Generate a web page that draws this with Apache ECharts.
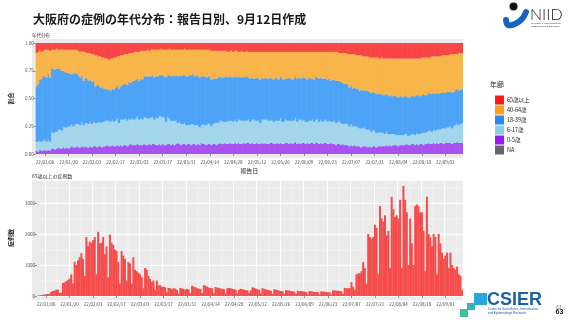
<!DOCTYPE html>
<html><head><meta charset="utf-8">
<script src="https://cdn.jsdelivr.net/npm/echarts@6/dist/echarts.min.js"></script>
<style>html,body{margin:0;padding:0;background:#fff}#c{width:569px;height:320px}</style>
</head><body><div id="c"></div>
<script>
// ---- data (daily, 2022-01-01 .. 2022-09-11) ----
const startYear = 2022, nDays = 254;
const ageNames = ['65歳以上','40-64歳','18-39歳','6-17歳','0-5歳','NA'];
const tickStep = 14, tickStart = 5; // 22/01/06, 22/01/20, ...

// share of reported cases by age group (%)
const share0_5 = [
3,2,4,3,3,4,3, 4,3,5,5,4,5,6, 5,5,6,5,6,5,6, 7,6,6,7,6,6,7, 6,7,6,6,7,6,7, 7,6,7,7,6,7,7,
8,7,7,8,7,7,8, 7,8,7,8,8,7,8, 9,8,8,8,9,8,8, 8,9,8,8,9,8,9, 9,8,8,9,8,9,8, 8,9,9,8,9,8,9,
10,9,8,9,9,8,9, 9,8,9,9,8,9,8, 10,9,9,8,9,9,8, 9,9,8,9,10,9,9, 10,9,9,10,9,9,10, 9,10,9,9,10,9,10,
10,9,10,9,9,10,9, 9,10,9,10,9,9,10, 10,9,9,10,9,10,9, 9,10,10,9,10,9,10, 11,9,10,9,10,10,9, 10,9,10,10,9,10,10,
9,10,9,10,10,9,9, 10,9,9,8,9,9,8, 9,8,8,8,7,8,7, 8,7,7,7,6,7,7, 7,6,7,6,7,7,6, 7,7,7,7,7,8,7,
8,7,8,8,8,7,8, 8,8,8,9,8,8,9, 9,8,9,8,9,9,8, 9,9,10,9,9,10,9, 10,9,10,10,9,10,10, 10,10,9,10,10,11,10, 10,10];
const share6_17 = [
8,9,8,8,9,9,8, 9,8,15,14,16,15,16, 17,16,18,19,18,20,19, 20,19,21,20,21,20,22, 20,21,22,21,22,21,22, 21,22,22,21,23,22,23,
22,23,22,23,22,23,24, 21,23,24,23,24,23,24, 22,24,23,24,25,23,24, 23,24,25,24,23,25,24, 22,25,24,25,26,24,25, 21,24,23,22,21,22,21,
18,20,19,18,19,18,17, 17,19,18,17,18,17,16, 16,18,17,18,19,18,17, 18,19,20,19,20,21,20, 19,20,21,20,21,20,21, 20,21,22,21,20,21,20,
21,20,21,22,21,20,21, 19,21,22,21,22,21,20, 21,20,21,20,21,22,20, 20,21,20,21,20,21,20, 22,20,21,22,20,21,20, 19,21,20,21,20,21,21,
20,21,20,20,21,20,21, 19,20,21,20,20,21,20, 18,19,20,19,18,19,18, 17,18,17,16,17,16,17, 15,16,15,14,15,14,13, 12,13,12,12,11,12,11,
10,11,10,10,9,10,9, 9,9,10,9,8,9,9, 9,9,10,10,9,10,11, 10,11,11,12,11,12,12, 12,13,12,13,14,13,14, 14,15,14,15,16,17,16, 17,18];
const share18_39 = [
50,52,55,57,58,57,58, 59,58,57,58,56,57,55, 55,54,51,50,49,48,47, 45,47,46,45,44,43,42, 40,41,40,39,38,38,37, 33,34,33,32,31,30,29,
28,29,28,28,29,30,30, 31,30,31,32,31,32,33, 33,34,35,35,34,35,36, 36,37,37,38,38,37,38, 38,37,38,37,37,38,37, 40,38,39,40,41,40,41,
42,42,43,44,43,44,44, 45,44,45,44,45,44,45, 44,43,44,43,42,43,42, 41,40,40,41,40,39,40, 40,41,39,40,39,40,39, 40,39,38,39,40,39,40,
38,39,38,37,38,39,38, 39,38,37,38,37,38,39, 37,38,39,38,37,38,39, 38,37,38,39,38,37,38, 37,39,38,37,39,38,39, 38,39,38,37,38,39,38,
39,38,39,38,37,38,38, 37,38,37,38,37,36,37, 37,36,35,36,35,35,34, 35,34,35,34,35,34,34, 35,35,34,35,34,34,35, 35,34,35,34,35,34,35,
34,35,34,35,35,34,35, 35,34,35,34,35,34,35, 34,35,34,35,34,34,35, 34,33,34,33,34,33,33, 33,32,33,32,33,32,32, 32,31,32,31,32,31,31, 31,31];
const share40_64 = [
30,29,27,24,23,24,25, 22,24,17,17,18,18,17, 17,19,19,20,21,21,22, 22,22,21,22,22,23,22, 26,23,23,25,24,25,24, 28,27,26,28,27,28,27,
28,26,29,27,29,27,26, 29,28,27,27,27,28,26, 27,25,26,25,24,26,25, 26,23,23,24,23,24,23, 25,24,24,23,24,23,24, 25,23,24,24,23,24,23,
24,23,24,23,24,24,24, 23,23,22,24,23,24,25, 24,24,24,25,24,24,26, 25,25,25,24,23,24,24, 24,23,23,23,24,23,23, 24,22,23,24,22,23,23,
23,24,23,24,24,23,24, 25,23,24,23,24,24,23, 24,25,23,24,25,22,24, 25,24,24,23,24,25,24, 22,24,23,24,23,23,24, 25,23,24,24,25,22,23,
24,23,24,24,24,25,24, 26,25,25,26,26,25,26, 27,28,28,27,30,28,31, 30,30,30,32,31,31,30, 31,31,31,32,31,32,33, 33,32,33,33,33,32,33,
34,33,34,33,34,35,34, 34,35,33,34,35,35,33, 34,34,33,33,34,34,33, 34,34,32,33,34,33,34, 33,34,33,34,33,34,33, 33,34,35,34,32,31,34, 33,32];
const share65 = [
9,8,6,8,7,6,6, 6,7,6,6,6,5,6, 6,6,6,6,6,6,6, 6,6,6,6,7,8,7, 8,8,9,9,9,10,10, 11,11,12,12,13,13,14,
14,15,14,14,13,13,12, 12,11,11,10,10,10,9, 9,9,8,8,8,8,7, 7,7,7,6,7,6,6, 6,6,6,6,5,6,6, 6,6,5,6,6,6,6,
6,6,6,6,5,6,6, 6,6,6,6,6,6,6, 6,6,6,6,6,6,7, 7,7,7,7,7,7,7, 7,7,8,7,7,8,7, 7,8,8,7,8,8,7,
8,8,8,8,8,8,8, 8,8,8,8,8,8,8, 8,8,8,8,8,8,8, 8,8,8,8,8,8,8, 8,8,8,8,8,8,8, 8,8,8,8,8,8,8,
8,8,8,8,8,8,8, 8,8,8,8,8,9,9, 9,9,9,10,10,10,10, 10,11,11,11,11,12,12, 12,12,13,13,13,13,13, 13,14,13,14,14,14,14,
14,14,14,14,14,14,14, 14,14,14,14,14,14,14, 14,14,14,14,14,13,13, 13,13,13,13,12,12,12, 12,12,12,11,11,11,11, 11,10,10,10,10,10,9, 9,9];
const shareNA = [];

// daily reported cases aged 65+
const cases65 = [
10,20,25,35,50,60,65, 70,130,160,170,200,210,100, 110,420,440,480,520,560,700, 400,1100,1000,1150,1250,1380,1200,
650,1900,1600,1750,1720,1800,1900, 700,2070,1700,1720,1900,1350,1600, 600,1980,1720,1650,1500,1450,1100, 400,1450,1300,1200,500,1100,1050,
400,1250,850,800,750,700,600, 250,900,850,650,550,450,500, 200,500,350,350,300,300,280, 120,260,250,220,250,240,200,
80,260,240,230,200,230,210, 90,330,300,280,250,240,230, 100,350,330,300,270,260,250, 90,290,270,260,240,230,220,
90,250,260,250,230,220,200, 80,200,230,220,200,190,180, 90,180,280,260,240,220,200, 80,250,230,210,200,190,170,
70,220,200,190,170,160,150, 60,190,180,170,160,150,140, 60,170,160,160,150,140,130, 50,160,150,140,130,130,120,
50,150,140,140,130,120,120, 50,180,180,170,170,160,150, 60,260,250,250,260,450,300, 200,700,720,740,800,1100,900,
400,2000,1900,1850,1900,2300,2200, 700,2900,2500,2400,2600,1950,2100, 900,3200,2800,2550,2600,2500,3100,
900,3550,3100,2700,1000,2500,1700, 1000,2900,2950,2900,2700,2700,2100, 800,3200,2000,1900,1600,2000,1900,
700,2000,1700,1400,1200,1300,1400, 900,1400,1000,900,850,950,700, 650,200];

// ---- categories ----
const categories = [];
for (let i = 0; i < nDays; i++) {
  const d = new Date(Date.UTC(startYear, 0, 1 + i));
  const p = n => String(n).padStart(2, '0');
  categories.push(String(d.getUTCFullYear()).slice(2) + '/' + p(d.getUTCMonth() + 1) + '/' + p(d.getUTCDate()));
}
const isTick = i => i >= tickStart && (i - tickStart) % tickStep === 0;
const isMinor = i => i >= tickStart + 7 && (i - tickStart - 7) % tickStep === 0;

const FONT = '"Noto Sans CJK JP", "Noto Sans", sans-serif';
const barColors = {'0-5歳':'#A852F2','6-17歳':'#A3D6EC','18-39歳':'#4DA3F8','40-64歳':'#F8B54A','65歳以上':'#F94545','NA':'#666666'};
const legendColors = {'65歳以上':'#FF1A1A','40-64歳':'#FF9F1A','18-39歳':'#2E86F5','6-17歳':'#8CCFEA','0-5歳':'#9A1AF5','NA':'#666666'};
const stackData = [['0-5歳', share0_5], ['6-17歳', share6_17], ['18-39歳', share18_39], ['40-64歳', share40_64], ['65歳以上', share65], ['NA', shareNA]];

const axisLblStyle = {fontSize: 4.5, color: '#4d4d4d', fontFamily: FONT};
const tickStyle = {color: '#333', width: 0.5};

const chart = echarts.init(document.getElementById('c'), null, {renderer: 'canvas'});
const series = stackData.map(([name, arr]) => ({
  name, type: 'bar', stack: 'share', xAxisIndex: 0, yAxisIndex: 0,
  data: arr, barWidth: 2.3,
  itemStyle: {color: barColors[name]},
  emphasis: {disabled: true}
}));
series.push({
  name: 'cases65', type: 'bar', xAxisIndex: 1, yAxisIndex: 1, data: cases65,
  barWidth: 2.0, itemStyle: {color: '#F64B4B'}, emphasis: {disabled: true}
});

chart.setOption({
  animation: false,
  backgroundColor: '#fff',
  textStyle: {fontFamily: FONT},
  grid: [
    {left: 32, right: 106, top: 43, height: 111, show: false},
    {left: 32, right: 106, top: 180, height: 116, show: false}
  ],
  xAxis: [
    {type: 'category', gridIndex: 0, data: categories, offset: 4,
     name: '報告日', nameLocation: 'middle', nameGap: 10,
     nameTextStyle: {fontSize: 6, color: '#222', fontFamily: FONT},
     axisLine: {show: false},
     axisTick: {show: true, alignWithLabel: true, interval: isTick, length: 2, lineStyle: tickStyle},
     axisLabel: Object.assign({interval: isTick, margin: 2}, axisLblStyle),
     splitLine: {show: false}},
    {type: 'category', gridIndex: 1, data: categories, offset: 4,
     axisLine: {show: false},
     axisTick: {show: true, alignWithLabel: true, interval: isTick, length: 2, lineStyle: tickStyle},
     axisLabel: Object.assign({interval: isTick, margin: 2}, axisLblStyle),
     splitLine: {show: true, interval: isTick, lineStyle: {color: '#fff', width: 0.9}}},
    {type: 'category', gridIndex: 1, data: categories, position: 'top',
     axisLine: {show: false}, axisTick: {show: false}, axisLabel: {show: false},
     splitLine: {show: true, interval: isMinor, lineStyle: {color: '#fff', width: 0.45}}}
  ],
  yAxis: [
    {type: 'value', gridIndex: 0, min: 0, max: 100, interval: 25,
     name: '割合', nameLocation: 'middle', nameGap: 14, nameRotate: 90,
     nameTextStyle: {fontSize: 6, color: '#222', fontWeight: 'bold', fontFamily: FONT},
     axisLine: {show: false},
     axisTick: {show: true, length: 2, lineStyle: tickStyle},
     axisLabel: Object.assign({margin: 2, formatter: v => (v / 100).toFixed(2)}, axisLblStyle),
     splitLine: {show: false}},
    {type: 'value', gridIndex: 1, min: 0, max: 3740, interval: 1000,
     name: '症例数', nameLocation: 'middle', nameGap: 14, nameRotate: 90,
     nameTextStyle: {fontSize: 6, color: '#222', fontWeight: 'bold', fontFamily: FONT},
     axisLine: {show: false},
     axisTick: {show: true, length: 2, lineStyle: tickStyle},
     axisLabel: Object.assign({margin: 2, showMaxLabel: false, formatter: v => String(v)}, axisLblStyle),
     splitLine: {show: true, lineStyle: {color: '#fff', width: 0.9}}},
    {type: 'value', gridIndex: 1, min: 0, max: 3740, interval: 500,
     axisLine: {show: false}, axisTick: {show: false}, axisLabel: {show: false},
     splitLine: {show: true, lineStyle: {color: '#fff', width: 0.45}}}
  ],
  legend: {
    orient: 'vertical', left: 490, top: 90.5, itemWidth: 9, itemHeight: 9, itemGap: 1,
    icon: 'rect', selectedMode: false,
    textStyle: {fontSize: 5.5, color: '#222', fontFamily: FONT, padding: [0, 0, 0, -2]},
    data: ageNames.map(n => ({name: n, itemStyle: {color: legendColors[n], borderWidth: 0}}))
  },
  graphic: [
    {type: 'rect', z: -10, shape: {x: 32, y: 39, width: 431, height: 119}, style: {fill: '#EBEBEB'}},
    {type: 'rect', z: -10, shape: {x: 32, y: 180, width: 431, height: 120}, style: {fill: '#EBEBEB'}},
    {type: 'text', x: 33, y: 19, style: {text: '大阪府の症例の年代分布：報告日別、9月12日作成', font: 'bold 12px ' + FONT, fill: '#1a1a1a', verticalAlign: 'middle', textVerticalAlign: 'middle'}},
    {type: 'text', x: 32, y: 35.5, style: {text: '年代分布', font: '4.5px ' + FONT, fill: '#333', verticalAlign: 'middle', textVerticalAlign: 'middle'}},
    {type: 'text', x: 32, y: 176, style: {text: '65歳以上の症例数', font: '5px ' + FONT, fill: '#333', verticalAlign: 'middle', textVerticalAlign: 'middle'}},
    {type: 'text', x: 490, y: 84.5, style: {text: '年齢', font: '7px ' + FONT, fill: '#222', verticalAlign: 'middle', textVerticalAlign: 'middle'}},
    // NIID logo
    {type: 'circle', shape: {cx: 513.5, cy: 6.5, r: 4}, style: {fill: '#111'}},
    {type: 'polyline', shape: {points: [[526, 12], [522, 19], [515, 24], [508, 25], [506, 20]], smooth: 0.4}, style: {stroke: '#1565C0', lineWidth: 6, fill: null, lineCap: 'round'}},
    {type: 'text', x: 530, y: 15, style: {text: 'NIID', font: '300 16px Lato, "Liberation Sans", sans-serif', fill: '#222', verticalAlign: 'middle', textVerticalAlign: 'middle'}},
    {type: 'text', x: 531, y: 23.5, style: {text: 'NATIONAL INSTITUTE OF', font: '2.5px "Liberation Sans", sans-serif', fill: '#333', verticalAlign: 'middle', textVerticalAlign: 'middle'}},
    {type: 'text', x: 531, y: 26.5, style: {text: 'INFECTIOUS DISEASES', font: '2.5px "Liberation Sans", sans-serif', fill: '#333', verticalAlign: 'middle', textVerticalAlign: 'middle'}},
    // CSIER logo
    {type: 'rect', shape: {x: 474, y: 293, width: 13, height: 12}, style: {fill: '#29A8E0'}},
    {type: 'rect', shape: {x: 467, y: 303, width: 8, height: 7}, style: {fill: '#35B5B8'}},
    {type: 'rect', shape: {x: 460, y: 309, width: 8, height: 8}, style: {fill: '#3CC0A0'}},
    {type: 'text', x: 487, y: 300, style: {text: 'CSIER', font: 'bold 18px "Liberation Sans", sans-serif', fill: '#1D5FA8', verticalAlign: 'middle', textVerticalAlign: 'middle'}},
    {type: 'text', x: 488, y: 309.5, style: {text: 'Center for Surveillance, Immunization,', font: '3px "Liberation Sans", sans-serif', fill: '#1D5FA8', verticalAlign: 'middle', textVerticalAlign: 'middle'}},
    {type: 'text', x: 488, y: 313.5, style: {text: 'and Epidemiologic Research', font: '3px "Liberation Sans", sans-serif', fill: '#1D5FA8', verticalAlign: 'middle', textVerticalAlign: 'middle'}},
    {type: 'text', x: 556, y: 308, style: {text: '63', font: '5px "Liberation Sans", sans-serif', fill: '#888', verticalAlign: 'middle', textVerticalAlign: 'middle'}},
    {type: 'text', x: 555.5, y: 312, style: {text: '63', font: 'bold 7px "Liberation Sans", sans-serif', fill: '#222', verticalAlign: 'middle', textVerticalAlign: 'middle'}}
  ],
  series
});
</script>
</body></html>
